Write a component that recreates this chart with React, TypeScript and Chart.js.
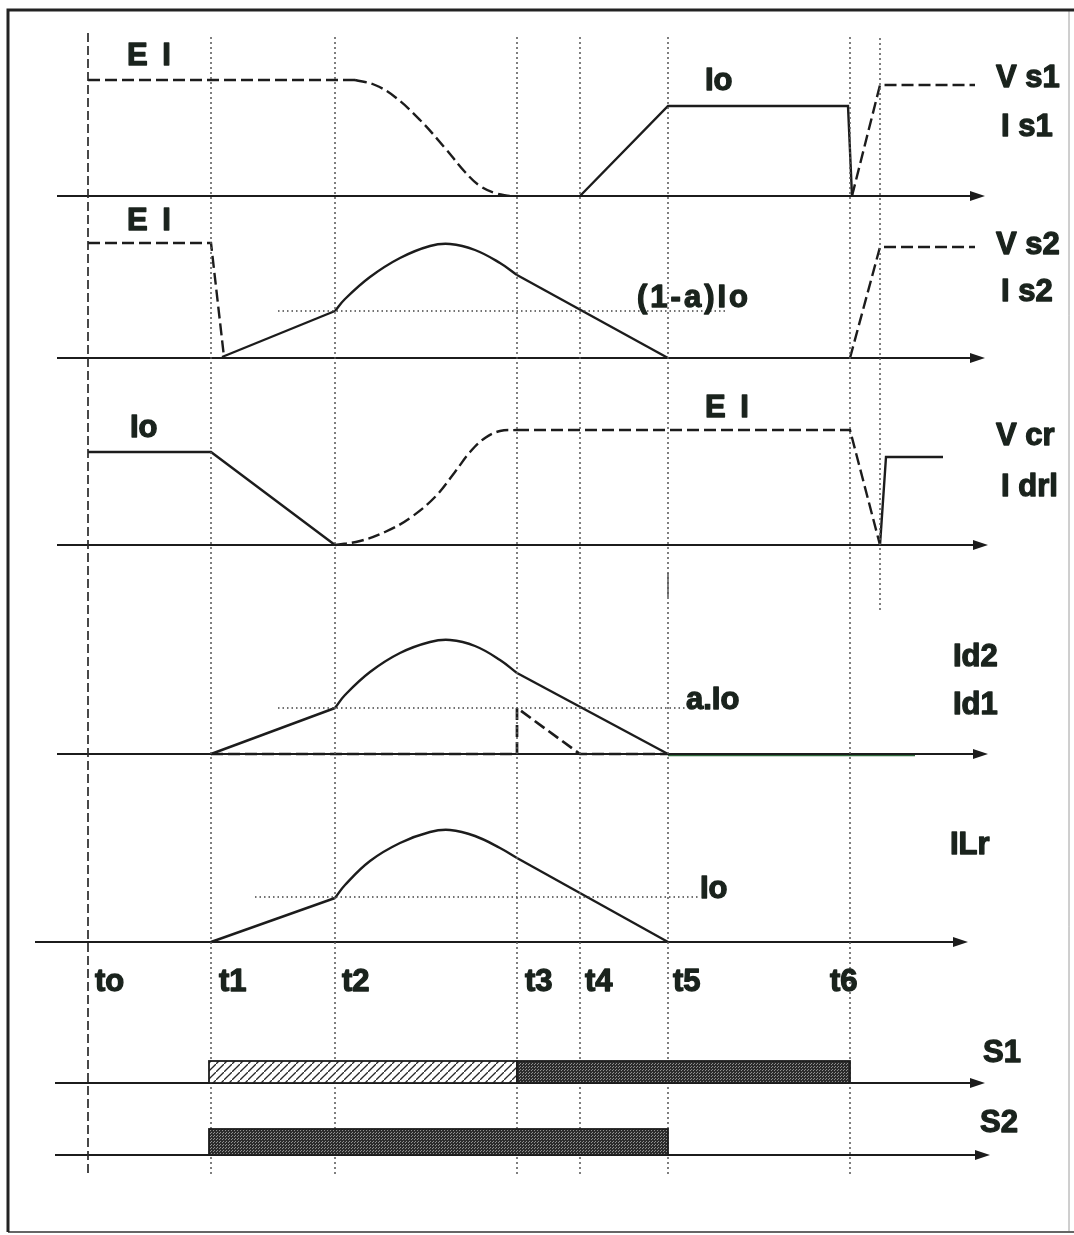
import { useEffect, useRef } from "react";
import { Chart, registerables } from "chart.js";

Chart.register(...registerables);

const W = 1074;
const H = 1235;

type P = [number, number];

// ---- time instants ----
const timeLabels = ["to", "t1", "t2", "t3", "t4", "t5", "t6"];
const timeX = [88, 211, 335, 517, 580, 668, 850];
const timeLabelX = [95, 219, 342, 525, 585, 673, 830];
const timeLabelY = 982;
const extraTimeX = 880;

// ---- axes (panel baselines) ----
const axisY = [196, 358, 545, 754, 942, 1083, 1155];
const axisStartX = [57, 57, 57, 57, 35, 55, 55];
const axisEndX = [985, 985, 988, 988, 968, 985, 990];

// ---- panel 1: Vs1 (dashed), Is1 (solid) ----
const vs1High: P[] = [[88, 80], [355, 80]];
const vs1Fall: P[] = [[355, 80], [375, 85], [395, 97], [420, 120], [445, 148], [465, 172], [480, 186], [495, 193], [510, 196]];
const vs1Rise: P[] = [[852, 196], [880, 85], [975, 85]];
const is1: P[] = [[580, 196], [668, 106], [848, 106], [852, 196]];

// ---- panel 2: Vs2 (dashed), Is2 (solid) ----
const vs2Fall: P[] = [[88, 243], [211, 243], [224, 357]];
const vs2Rise: P[] = [[850, 358], [880, 247], [975, 247]];
const is2Ramp: P[] = [[222, 357], [335, 311]];
const is2Peak: P[] = [[335, 311], [345, 299], [370, 277], [400, 258], [430, 246], [450, 244], [475, 250], [500, 263], [517, 275]];
const is2Fall: P[] = [[517, 275], [668, 358]];
const ref1aIo: P[] = [[278, 311], [728, 311]];

// ---- panel 3: Vcr (dashed), Idrl (solid) ----
const idrl: P[] = [[88, 452], [211, 452], [335, 545]];
const idrlEnd: P[] = [[880, 545], [886, 457], [943, 457]];
const vcrRise: P[] = [[335, 545], [360, 541], [385, 532], [410, 518], [435, 497], [455, 472], [470, 452], [485, 438], [500, 431], [517, 430]];
const vcrHigh: P[] = [[517, 430], [850, 430], [880, 545]];

// ---- panel 4: Id2 (solid), Id1 (dashed) ----
const id2Ramp: P[] = [[211, 754], [335, 708]];
const id2Peak: P[] = [[335, 708], [345, 695], [370, 672], [400, 653], [430, 642], [450, 640], [475, 646], [500, 660], [517, 673]];
const id2Fall: P[] = [[517, 673], [668, 754]];
const id1: P[] = [[211, 754], [517, 754], [517, 708], [580, 754], [668, 754]];
const id1Tail: P[] = [[668, 755], [915, 755]];
const refAIo: P[] = [[278, 708], [686, 708]];

// ---- panel 5: ILr ----
const ilrRamp: P[] = [[211, 942], [335, 898]];
const ilrPeak: P[] = [[335, 898], [345, 885], [370, 861], [400, 843], [430, 832], [450, 830], [475, 836], [500, 848], [517, 858]];
const ilrFall: P[] = [[517, 858], [668, 942]];
const refIo: P[] = [[255, 897], [700, 897]];

// ---- switch states ----
const s1HatchX = [209, 517];
const s1OnX = [517, 850];
const s2OnX = [209, 668];
const s1BarY = [1061, 1083];
const s2BarY = [1129, 1155];

// ---- text labels ----
const labelTexts = ["E I", "Io", "V s1", "I s1", "E I", "(1-a)Io", "V s2", "I s2", "Io", "E I", "V cr", "I drl", "Id2", "a.Io", "Id1", "ILr", "Io", "S1", "S2"];
const labelX = [127, 705, 996, 1001, 127, 637, 996, 1001, 130, 705, 996, 1001, 953, 686, 953, 950, 700, 983, 980];
const labelY = [56, 81, 78, 127, 221, 298, 245, 292, 428, 408, 436, 487, 657, 700, 705, 845, 889, 1053, 1123];
const spacedLabels = ["E I", "(1-a)Io"];

const INK = "#1c1c1c";
const TEXT = "#1a231d";
const pts = (a: P[]) => a.map(([x, y]) => ({ x, y }));

function line(data: P[], opts: Record<string, unknown> = {}) {
  return {
    data: pts(data),
    showLine: true,
    pointRadius: 0,
    pointHoverRadius: 0,
    borderColor: INK,
    borderWidth: 2.4,
    fill: false,
    tension: 0,
    ...opts,
  };
}

const DASH = { borderDash: [12, 5] };
const CURVE = { tension: 0.4 };

function makePatterns(ctx: CanvasRenderingContext2D) {
  const h = document.createElement("canvas");
  h.width = 8;
  h.height = 8;
  const hc = h.getContext("2d")!;
  hc.fillStyle = "#fff";
  hc.fillRect(0, 0, 8, 8);
  hc.strokeStyle = "#2a2a2a";
  hc.lineWidth = 1.3;
  hc.beginPath();
  hc.moveTo(-1, 9);
  hc.lineTo(9, -1);
  hc.stroke();
  const d = document.createElement("canvas");
  d.width = 3;
  d.height = 3;
  const dc = d.getContext("2d")!;
  dc.fillStyle = "#2c2c2c";
  dc.fillRect(0, 0, 3, 3);
  dc.fillStyle = "#8f8f8f";
  dc.fillRect(1, 1, 1, 1);
  dc.fillRect(0, 2, 1, 1);
  return { hatch: ctx.createPattern(h, "repeat")!, dark: ctx.createPattern(d, "repeat")! };
}

const diagramPlugin = {
  id: "diagram",
  beforeDraw(chart: any) {
    const ctx = chart.ctx;
    ctx.save();
    ctx.fillStyle = "#fff";
    ctx.fillRect(0, 0, chart.width, chart.height);
    ctx.restore();
  },
  afterDatasetsDraw(chart: any) {
    const ctx: CanvasRenderingContext2D = chart.ctx;
    const xs = chart.scales.x;
    const ys = chart.scales.y;
    const px = (v: number) => xs.getPixelForValue(v);
    const py = (v: number) => ys.getPixelForValue(v);
    const pat = makePatterns(ctx);
    ctx.save();
    // arrowheads
    ctx.fillStyle = INK;
    axisEndX.forEach((x, i) => {
      const X = px(x);
      const Y = py(axisY[i]);
      ctx.beginPath();
      ctx.moveTo(X, Y);
      ctx.lineTo(X - 15, Y - 5);
      ctx.lineTo(X - 15, Y + 5);
      ctx.closePath();
      ctx.fill();
    });
    // switch bars
    const bar = (xr: number[], yr: number[], fill: CanvasPattern) => {
      const x0 = px(xr[0]);
      const x1 = px(xr[1]);
      const y0 = py(yr[0]);
      const y1 = py(yr[1]);
      ctx.fillStyle = fill;
      ctx.fillRect(x0, y0, x1 - x0, y1 - y0);
      ctx.strokeStyle = INK;
      ctx.lineWidth = 1.8;
      ctx.strokeRect(x0, y0, x1 - x0, y1 - y0);
    };
    bar(s1HatchX, s1BarY, pat.hatch);
    bar(s1OnX, s1BarY, pat.dark);
    bar(s2OnX, s2BarY, pat.dark);
    // labels
    ctx.fillStyle = TEXT;
    ctx.strokeStyle = TEXT;
    ctx.lineWidth = 1.3;
    ctx.lineJoin = "round";
    ctx.font = "bold 31px 'Liberation Sans', Arial, sans-serif";
    ctx.textBaseline = "middle";
    ctx.textAlign = "left";
    const draw = (t: string, x: number, y: number) => {
      (ctx as any).letterSpacing = spacedLabels.includes(t) ? "3px" : "0px";
      ctx.fillText(t, x, y);
      ctx.strokeText(t, x, y);
    };
    labelTexts.forEach((t, i) => draw(t, px(labelX[i]), py(labelY[i])));
    timeLabels.forEach((t, i) => draw(t, px(timeLabelX[i]), py(timeLabelY)));
    ctx.restore();
  },
};

export default function App() {
  const ref = useRef<HTMLCanvasElement>(null);
  useEffect(() => {
    document.body.style.margin = "0";
    const datasets: any[] = [];
    // frame
    datasets.push(line([[8, 1232], [8, 10], [1074, 10]], { borderWidth: 3, borderColor: "#222" }));
    datasets.push(line([[8, 1232], [1074, 1232]], { borderWidth: 2, borderColor: "#666" }));
    datasets.push(line([[1069, 10], [1069, 1232]], { borderWidth: 1, borderColor: "#c8c8c8" }));
    // time markers
    datasets.push(line([[timeX[0], 33], [timeX[0], 1177]], { borderDash: [9, 4], borderWidth: 1.7, borderColor: "#2a2a2a" }));
    timeX.slice(1).forEach((x) =>
      datasets.push(line([[x, 37], [x, 1176]], { borderDash: [2, 3], borderWidth: 1.5, borderColor: "#555" }))
    );
    datasets.push(line([[extraTimeX, 38], [extraTimeX, 612]], { borderDash: [2, 3], borderWidth: 1.5, borderColor: "#555" }));
    datasets.push(line([[timeX[5], 573], [timeX[5], 597]], { borderWidth: 1.2, borderColor: "#333" }));
    // reference levels
    [ref1aIo, refAIo, refIo].forEach((r) =>
      datasets.push(line(r, { borderDash: [1.5, 3], borderWidth: 1.5, borderColor: "#444" }))
    );
    // axes
    axisY.forEach((y, i) =>
      datasets.push(line([[axisStartX[i], y], [axisEndX[i] - 10, y]], { borderWidth: 2, borderColor: INK }))
    );
    // waveforms
    datasets.push(line(vs1High, DASH));
    datasets.push(line(vs1Fall, { ...DASH, ...CURVE }));
    datasets.push(line(vs1Rise, DASH));
    datasets.push(line(is1));
    datasets.push(line(vs2Fall, DASH));
    datasets.push(line(vs2Rise, DASH));
    datasets.push(line(is2Ramp));
    datasets.push(line(is2Peak, CURVE));
    datasets.push(line(is2Fall));
    datasets.push(line(idrl));
    datasets.push(line(idrlEnd));
    datasets.push(line(vcrRise, { ...DASH, ...CURVE }));
    datasets.push(line(vcrHigh, DASH));
    datasets.push(line(id2Ramp));
    datasets.push(line(id2Peak, CURVE));
    datasets.push(line(id2Fall));
    datasets.push(line(id1, { ...DASH, borderWidth: 2.7 }));
    datasets.push(line(id1Tail, { borderWidth: 2.7, borderColor: "#2f6a3c" }));
    datasets.push(line(ilrRamp));
    datasets.push(line(ilrPeak, CURVE));
    datasets.push(line(ilrFall));

    const chart = new Chart(ref.current!, {
      type: "scatter",
      data: { datasets },
      options: {
        responsive: false,
        animation: false,
        devicePixelRatio: 1,
        layout: { padding: 0 },
        events: [],
        plugins: { legend: { display: false }, tooltip: { enabled: false } },
        scales: {
          x: { type: "linear", min: 0, max: W, display: false },
          y: { type: "linear", min: 0, max: H, reverse: true, display: false },
        },
      } as any,
      plugins: [diagramPlugin],
    });
    return () => chart.destroy();
  }, []);
  return (
    <div style={{ width: W, height: H, background: "#fff" }}>
      <canvas ref={ref} width={W} height={H} style={{ display: "block" }} />
    </div>
  );
}
